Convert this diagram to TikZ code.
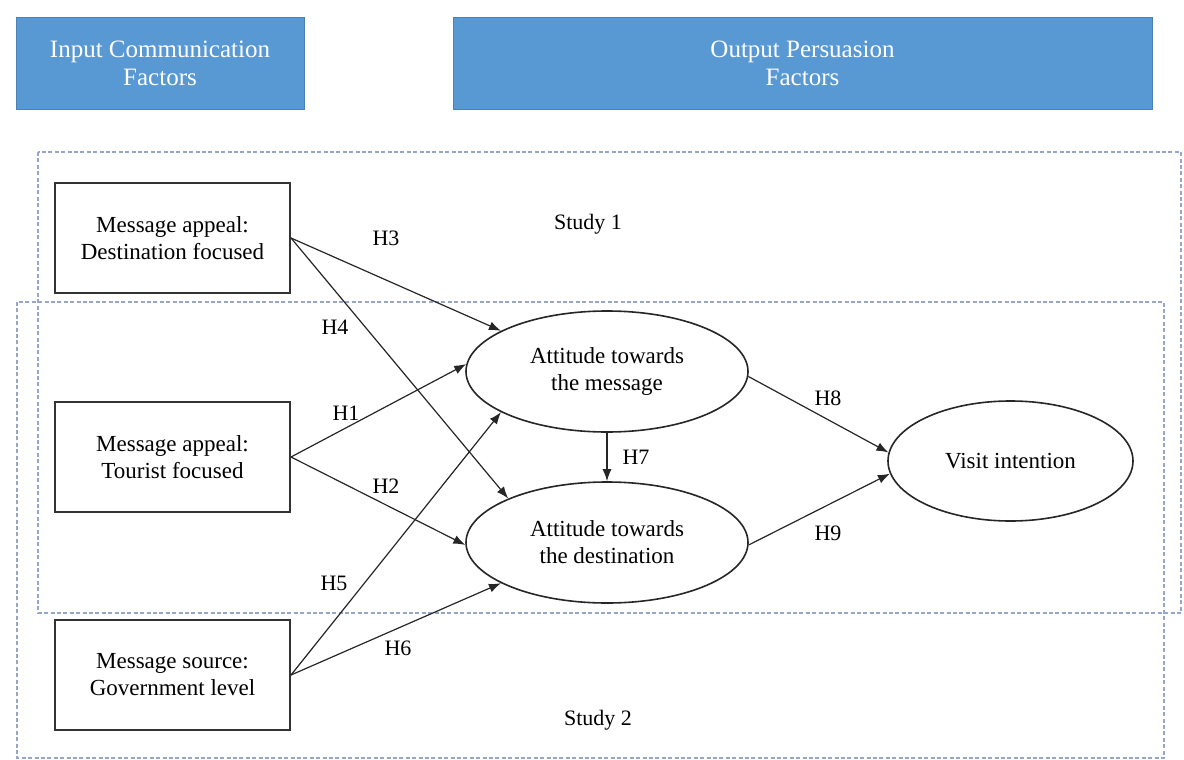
\documentclass[tikz,border=0pt]{standalone}
\usepackage{fontspec}
\setmainfont{Liberation Serif}
\usetikzlibrary{shapes.geometric, arrows.meta}

\definecolor{headblue}{RGB}{88,152,211}
\definecolor{studyline}{RGB}{150,166,202}

\tikzset{
    header/.style={shape=rectangle, fill=headblue, draw=headblue!85!black, line width=0.4pt, text=white, align=center, inner sep=0pt, font=\fontsize{12.5}{14}\selectfont},
    factor/.style={shape=rectangle, draw=black!80, line width=1pt, minimum width=117.5pt, minimum height=55pt, inner sep=0pt, align=center, font=\fontsize{11.5}{13.5}\selectfont},
    attitude/.style={shape=ellipse, draw=black!85, line width=0.8pt, inner sep=0pt, align=center, font=\fontsize{11.5}{13.5}\selectfont},
    hyp/.style={inner sep=1pt, font=\fontsize{11}{13}\selectfont},
    studybox/.style={draw=studyline, line width=0.6pt, dash pattern=on 2pt off 1.2pt},
    link/.style={draw=black!85, line width=0.6pt, -{Latex[length=6pt, width=4.5pt]}}
}

\begin{document}
\begin{tikzpicture}[x=0.5pt, y=-0.5pt]

            \useasboundingbox (0,0) rectangle (1184,760);

            % study frames
            \draw[studybox] (38,152) rectangle (1181,613);
            \draw[studybox] (17,302) rectangle (1164,758);

            \node[header, minimum width=144pt, minimum height=46pt] (IN) at (160,63) {Input Communication\\Factors};
            \node[header, minimum width=349.5pt, minimum height=46pt] (OUT) at (802.5,63) {Output Persuasion\\Factors};

            \node[hyp] (S1) at (588,224) {Study 1};
            \node[hyp] (S2) at (598,720) {Study 2};

            \node[factor] (DEST) at (172.5,238) {Message appeal:\\Destination focused};
            \node[factor] (TOUR) at (172.5,457) {Message appeal:\\Tourist focused};
            \node[factor] (GOV) at (172.5,675) {Message source:\\Government level};

            \node[attitude, minimum width=141pt, minimum height=60.5pt] (ATM) at (607,371.5) {Attitude towards\\the message};
            \node[attitude, minimum width=141pt, minimum height=60.5pt] (ATD) at (607,542.5) {Attitude towards\\the destination};
            \node[attitude, minimum width=122.5pt, minimum height=60pt] (VI) at (1010.5,461) {Visit intention};

            \path (DEST.east) edge[link] (ATM.159);
            \path (DEST.east) edge[link] (ATD.156);
            \path (TOUR.east) edge[link] (ATM.177);
            \path (TOUR.east) edge[link] (ATD.181);
            \path (GOV.east) edge[link] (ATM.201);
            \path (GOV.east) edge[link] (ATD.201);
            \path (ATM.south) edge[link] (ATD.north);
            \path (ATM.-2) edge[link] (VI.176);
            \path (ATD.-1) edge[link] (VI.186);

            \node[hyp] (H1) at (346,413) {H1};
            \node[hyp] (H2) at (386,486) {H2};
            \node[hyp] (H3) at (386,238) {H3};
            \node[hyp] (H4) at (335,327) {H4};
            \node[hyp] (H5) at (334,583) {H5};
            \node[hyp] (H6) at (398,648) {H6};
            \node[hyp] (H7) at (636,457) {H7};
            \node[hyp] (H8) at (828,398) {H8};
            \node[hyp] (H9) at (828,533) {H9};
        \end{tikzpicture}
\end{document}
